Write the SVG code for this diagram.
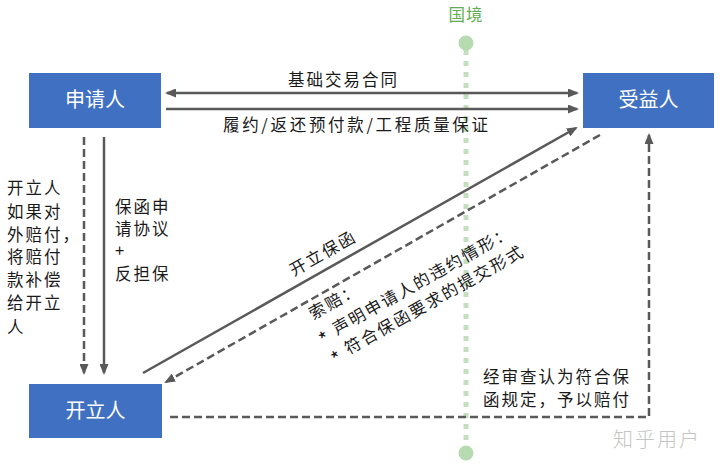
<svg xmlns="http://www.w3.org/2000/svg" width="720" height="467" viewBox="0 0 720 467">
<style>
.box{fill:#4070c2;}
.bt{font-family:"Noto Sans CJK SC","Noto Sans",sans-serif;font-size:20px;fill:#ffffff;text-anchor:middle;}
.lb{font-family:"Noto Sans CJK SC","Noto Sans",sans-serif;font-size:16.5px;fill:#1a1a1a;letter-spacing:2px;}
.st{font-size:20px;}
.ln{stroke:#595959;stroke-width:2.5;fill:none;}
.dash{stroke-dasharray:8 4;}
</style>
<defs>
<marker id="ah" markerUnits="userSpaceOnUse" markerWidth="11" markerHeight="9" refX="9" refY="4.5" orient="auto-start-reverse" viewBox="0 0 11 9">
<path d="M0,0 L11,4.5 L0,9 z" fill="#595959"/>
</marker>
</defs>
<rect width="720" height="467" fill="#ffffff"/>
<g id="border">
<line x1="466" y1="50" x2="466" y2="446" stroke="#c3dfbd" stroke-width="5" stroke-dasharray="5 6"/>
<circle cx="466" cy="43" r="7.5" fill="#b7dbb0"/>
<circle cx="466" cy="453" r="7.5" fill="#b7dbb0"/>
<text x="466" y="21" text-anchor="middle" font-family="'Noto Sans CJK SC','Noto Sans',sans-serif" font-size="16.5" fill="#62ad52" letter-spacing="1">国境</text>
</g>
<g id="connectors">
<line class="ln" x1="167" y1="93" x2="577" y2="93" marker-start="url(#ah)" marker-end="url(#ah)"/>
<line class="ln" x1="166" y1="109" x2="577" y2="109" marker-end="url(#ah)"/>
<line class="ln dash" x1="84" y1="137" x2="84" y2="373" marker-end="url(#ah)"/>
<line class="ln" x1="104" y1="137" x2="104" y2="373" marker-end="url(#ah)"/>
<line class="ln" x1="143" y1="373" x2="576" y2="128" marker-end="url(#ah)"/>
<line class="ln dash" x1="600" y1="135" x2="166" y2="382" marker-end="url(#ah)"/>
<polyline class="ln dash" points="170,417 649,417 649,135" marker-end="url(#ah)"/>
</g>
<g id="labels">
<text class="lb" x="288" y="86" textLength="111">基础交易合同</text>
<text class="lb" x="223" y="131" textLength="267">履约/返还预付款/工程质量保证</text>
<text class="lb" x="7"><tspan x="7" y="194">开立人</tspan><tspan x="7" y="218">如果对</tspan><tspan x="7" y="241">外赔付，</tspan><tspan x="7" y="263">将赔付</tspan><tspan x="7" y="286">款补偿</tspan><tspan x="7" y="309">给开立</tspan><tspan x="7" y="333">人</tspan></text>
<text class="lb" x="115"><tspan x="115" y="213">保函申</tspan><tspan x="115" y="235">请协议</tspan><tspan x="115" y="257">+</tspan><tspan x="115" y="280">反担保</tspan></text>
<g transform="translate(323,253) rotate(-29.4)"><text class="lb" x="0" y="6" text-anchor="middle">开立保函</text></g>
<g transform="translate(325,335) rotate(-29.4)">
<text class="lb" x="-3" y="-19">索赔：</text>
<text class="lb" x="-7" y="6"><tspan class="st" dy="5">*</tspan><tspan dy="-5"> 声明申请人的违约情形：</tspan></text>
<text class="lb" x="-6" y="29"><tspan class="st" dy="5">*</tspan><tspan dy="-5"> 符合保函要求的提交形式</tspan></text>
</g>
<text class="lb" x="483" y="383">经审查认为符合保</text>
<text class="lb" x="483" y="406">函规定，予以赔付</text>
</g>
<g id="applicant"><rect class="box" x="29" y="73" width="132" height="55"/><text class="bt" x="95" y="107">申请人</text></g>
<g id="beneficiary"><rect class="box" x="583" y="73" width="131" height="55"/><text class="bt" x="648.5" y="107">受益人</text></g>
<g id="issuer"><rect class="box" x="29" y="384" width="133" height="54"/><text class="bt" x="95.5" y="418">开立人</text></g>
<text x="613" y="447" font-family="'Noto Sans CJK SC','Noto Sans',sans-serif" font-size="20" font-weight="300" fill="#c4c4c4" letter-spacing="2">知乎用户</text>
</svg>
